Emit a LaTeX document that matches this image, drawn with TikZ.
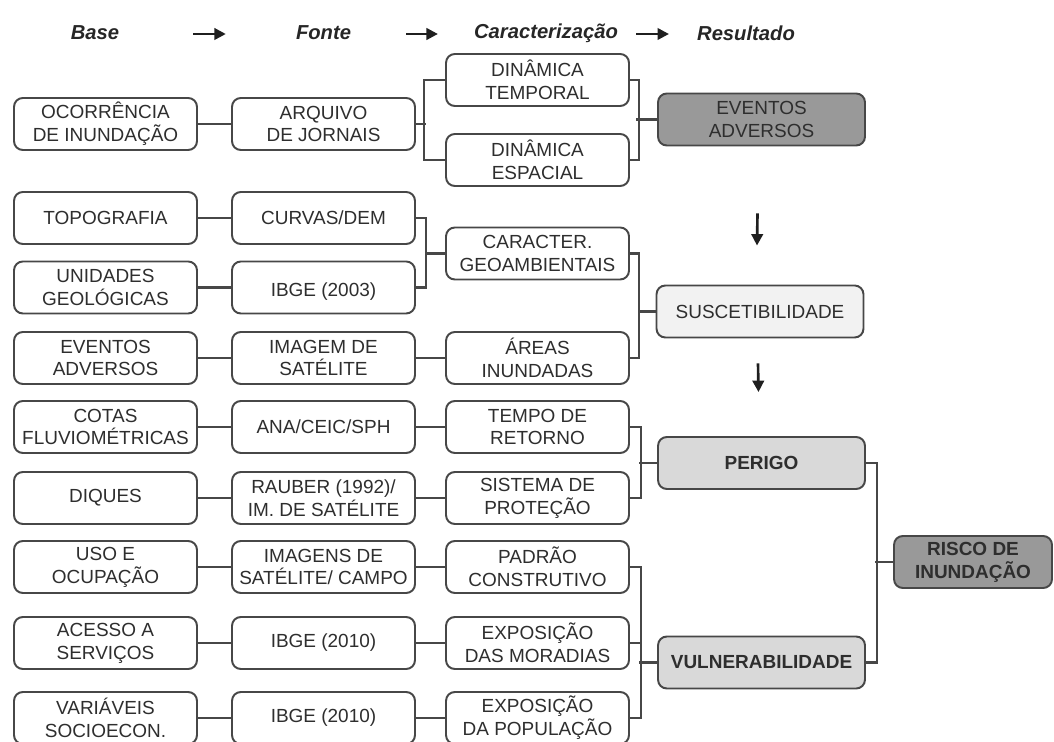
\documentclass[tikz,border=0pt]{standalone}
\usepackage{fontspec}
\setsansfont{Liberation Sans}
\usetikzlibrary{arrows.meta,calc,positioning}
\colorlet{flowLine}{black!72}
\colorlet{flowText}{black!82}
\colorlet{flowDark}{black!40}
\colorlet{flowMid}{black!15}
\colorlet{flowLight}{black!5}
\tikzset{
  flowbox/.style={
    rectangle, rounded corners=5pt, draw=flowLine, line width=1.1pt,
    fill=white, minimum width=3.66cm, minimum height=1.04cm, align=center,
    font=\fontsize{10.8}{13}\selectfont\sffamily, text=flowText,
    inner xsep=1pt, inner ysep=1pt
  },
  resbox/.style={flowbox, minimum width=4.14cm},
  flowhead/.style={font=\fontsize{11.5}{13}\selectfont\sffamily\bfseries\itshape, text=black!85},
  flowlink/.style={draw=flowLine, line width=1.2pt},
  flowarrow/.style={-{Triangle[length=6.5pt,width=6.5pt]}, draw=black!88, line width=1.5pt}
}
\begin{document}
\begin{tikzpicture}[x=0.02cm,y=-0.02cm]
  \useasboundingbox (0,0) rectangle (1054,742);

  % headings
  \node[flowhead] (hbase) at (95,33) {Base};
  \node[flowhead] (hfonte) at (323.5,33) {Fonte};
  \node[flowhead] (hcarac) at (546,33) {Caracterização};
  \node[flowhead] (hres) at (746,33) {Resultado};
  \draw[flowarrow] ($(hbase.east)+(68,1)$) -- ($(hfonte.west)+(-64,1)$);
  \draw[flowarrow] ($(hfonte.east)+(49,1)$) -- ($(hcarac.west)+(-30,1)$);
  \draw[flowarrow] ($(hcarac.east)+(12,1)$) -- ($(hres.west)+(-22,1)$);

  % eventos adversos
  \node[flowbox] (ocor) at (105.5,124) {OCORRÊNCIA\\DE INUNDAÇÃO};
  \node[flowbox] (arq) at (323.5,124) {ARQUIVO\\DE JORNAIS};
  \node[flowbox] (dtemp) at (537.5,80) {DINÂMICA\\TEMPORAL};
  \node[flowbox] (desp) at (537.5,160) {DINÂMICA\\ESPACIAL};
  \node[resbox, fill=flowDark] (evres) at (761.5,119.5) {EVENTOS\\ADVERSOS};

  % suscetibilidade
  \node[flowbox] (topo) at (105.5,218) {TOPOGRAFIA};
  \node[flowbox] (curv) at (323.5,218) {CURVAS/DEM};
  \node[flowbox] (unid) at (105.5,287.5) {UNIDADES\\GEOLÓGICAS};
  \node[flowbox] (ibgea) at (323.5,287.5) {\\IBGE (2003)};
  \node[flowbox] (carac) at (537.5,253.5) {CARACTER.\\GEOAMBIENTAIS};
  \node[flowbox] (evbase) at (105.5,358) {EVENTOS\\ADVERSOS};
  \node[flowbox] (imgsat) at (323.5,358) {IMAGEM DE\\SATÉLITE};
  \node[flowbox] (areas) at (537.5,358) {ÁREAS\\INUNDADAS};
  \node[resbox, fill=flowLight] (susc) at (760,311.5) {SUSCETIBILIDADE};

  % perigo
  \node[flowbox] (cotas) at (105.5,427) {COTAS\\FLUVIOMÉTRICAS};
  \node[flowbox] (ana) at (323.5,427) {ANA/CEIC/SPH};
  \node[flowbox] (tempo) at (537.5,427) {TEMPO DE\\RETORNO};
  \node[flowbox] (diques) at (105.5,498) {DIQUES};
  \node[flowbox] (rauber) at (323.5,498) {RAUBER (1992)/\\IM. DE SATÉLITE};
  \node[flowbox] (sist) at (537.5,498) {SISTEMA DE\\PROTEÇÃO};
  \node[resbox, fill=flowMid, font=\fontsize{10.8}{13}\selectfont\sffamily\bfseries] (perigo) at (761.5,463) {PERIGO};

  % vulnerabilidade
  \node[flowbox] (uso) at (105.5,567) {USO E\\OCUPAÇÃO};
  \node[flowbox] (imgcampo) at (323.5,567) {IMAGENS DE\\SATÉLITE/ CAMPO};
  \node[flowbox] (padrao) at (537.5,567) {PADRÃO\\CONSTRUTIVO};
  \node[flowbox] (acesso) at (105.5,643) {ACESSO A\\SERVIÇOS};
  \node[flowbox] (ibgeb) at (323.5,643) {IBGE (2010)};
  \node[flowbox] (morad) at (537.5,643) {EXPOSIÇÃO\\DAS MORADIAS};
  \node[flowbox] (socio) at (105.5,718) {VARIÁVEIS\\SOCIOECON.};
  \node[flowbox] (ibgec) at (323.5,718) {IBGE (2010)};
  \node[flowbox] (popul) at (537.5,718) {EXPOSIÇÃO\\DA POPULAÇÃO};
  \node[resbox, fill=flowMid, font=\fontsize{10.8}{13}\selectfont\sffamily\bfseries] (vuln) at (761.5,662.5) {VULNERABILIDADE};

  \node[flowbox, fill=flowDark, minimum width=3.16cm, font=\fontsize{10.8}{13}\selectfont\sffamily\bfseries] (risco) at (973,562) {RISCO DE\\INUNDAÇÃO};

  % straight links
  \draw[flowlink] (ocor) -- (arq);
  \draw[flowlink] (topo) -- (curv);
  \draw[flowlink] (unid) -- (ibgea);
  \draw[flowlink] (evbase) -- (imgsat);
  \draw[flowlink] (imgsat) -- (areas);
  \draw[flowlink] (cotas) -- (ana);
  \draw[flowlink] (ana) -- (tempo);
  \draw[flowlink] (diques) -- (rauber);
  \draw[flowlink] (rauber) -- (sist);
  \draw[flowlink] (uso) -- (imgcampo);
  \draw[flowlink] (imgcampo) -- (padrao);
  \draw[flowlink] (acesso) -- (ibgeb);
  \draw[flowlink] (ibgeb) -- (morad);
  \draw[flowlink] (socio) -- (ibgec);
  \draw[flowlink] (ibgec) -- (popul);

  % brackets
  \draw[flowlink] (dtemp.west) -- ++(-21,0) |- (desp.west);
  \draw[flowlink] (arq.east) -- ++(10,0);
  \draw[flowlink] (dtemp.east) -- ++(9,0) |- (desp.east);
  \draw[flowlink] (evres.west) -- ++(-21,0);

  \draw[flowlink] (curv.east) -- ++(10,0) |- (ibgea.east);
  \draw[flowlink] (carac.west) -- ++(-19,0);
  \draw[flowlink] (carac.east) -- ++(9,0) |- (areas.east);
  \draw[flowlink] (susc.west) -- ++(-17,0);

  \draw[flowlink] (tempo.east) -- ++(11,0) |- (sist.east);
  \draw[flowlink] (perigo.west) -- ++(-18,0);

  \draw[flowlink] (padrao.east) -- ++(11,0) |- (popul.east);
  \draw[flowlink] (morad.east) -- ++(11,0);
  \draw[flowlink] (vuln.west) -- ++(-18,0);

  \draw[flowlink] (perigo.east) -- ++(11,0) |- (vuln.east);
  \draw[flowlink] (risco.west) -- ++(-18,0);

  % downward arrows
  \draw[flowarrow] ($(evres.south)+(-4,67)$) -- ($(susc.north)+(-3,-39)$);
  \draw[flowarrow] ($(susc.south)+(-2,25)$) -- ($(perigo.north)+(-3,-44)$);
\end{tikzpicture}
\end{document}
